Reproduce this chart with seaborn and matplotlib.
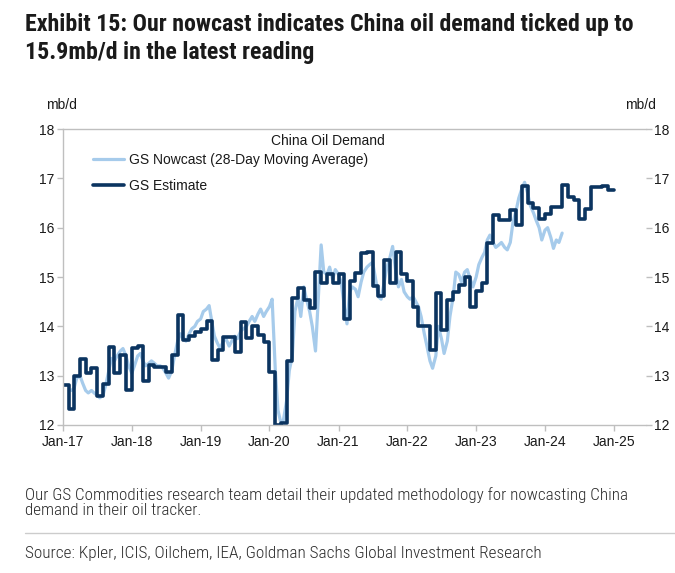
import matplotlib
matplotlib.use("Agg")
import matplotlib.pyplot as plt
import matplotlib.dates as mdates
import matplotlib.font_manager as fm
import numpy as np
import pandas as pd
import seaborn as sns

# ---------------- data ----------------
estimate_start = "2017-01-01"
estimate_values = [
    12.81, 12.32, 12.99, 13.34, 13.05, 13.15, 12.59, 12.83, 13.59, 13.05, 13.42, 12.71,
    13.57, 13.60, 12.90, 13.22, 13.17, 13.17, 13.07, 13.42, 14.23, 13.73, 13.80, 13.88,
    13.95, 14.10, 13.32, 13.52, 13.78, 13.78, 13.47, 14.08, 13.76, 14.01, 13.83, 13.69,
    13.07, 12.00, 12.04, 13.29, 14.57, 14.78, 14.54, 14.37, 15.11, 14.88, 15.07, 14.88,
    15.07, 14.15, 14.91, 15.09, 15.49, 15.50, 14.81, 14.61, 15.35, 14.88, 15.50, 15.07,
    14.91, 14.40, 14.01, 14.01, 13.52, 14.67, 13.93, 14.54, 14.69, 14.84, 15.00, 14.40,
    14.71, 14.88, 15.68, 16.26, 16.15, 16.15, 16.36, 16.06, 16.85, 16.50, 16.40, 16.18,
    16.28, 16.42, 16.42, 16.87, 16.62, 16.57, 16.17, 16.38, 16.82, 16.83, 16.84, 16.76,
]

nowcast_start = "2017-02-15"   # semi-monthly readings (1st and 15th)
nowcast_values = [
    12.70, 12.75, 12.95, 13.00, 12.85, 12.70, 12.65, 12.70, 12.65, 12.60, 12.55, 12.60,
    12.80, 13.10, 13.35, 13.30, 13.40, 13.50, 13.55, 13.40, 13.20, 13.05, 13.20, 13.40,
    13.45, 13.30, 13.20, 13.25, 13.30, 13.25, 13.20, 13.20, 13.15, 13.05, 12.95, 13.10,
    13.40, 13.70, 13.85, 13.75, 13.70, 13.85, 13.95, 14.00, 14.10, 14.15, 14.30, 14.35,
    14.42, 14.10, 13.80, 13.65, 13.55, 13.70, 13.75, 13.60, 13.70, 13.80, 13.75, 13.90,
    13.95, 14.00, 14.10, 14.20, 14.10, 14.25, 14.35, 14.20, 14.30, 14.40, 14.55, 13.10,
    12.30, 12.05, 12.10, 12.50, 13.10, 13.40, 14.30, 14.60, 14.20, 14.80, 14.55, 14.30,
    14.00, 13.50, 14.50, 15.65, 15.10, 15.05, 15.20, 14.95, 15.15, 15.05, 14.90, 14.40,
    14.05, 14.70, 14.80, 14.75, 14.60, 14.90, 15.10, 15.20, 15.25, 15.30, 15.00, 14.60,
    14.55, 14.90, 15.20, 15.40, 15.62, 15.10, 14.80, 14.95, 14.70, 14.60, 14.55, 14.60,
    14.50, 14.40, 14.20, 13.85, 13.60, 13.30, 13.15, 13.40, 14.00, 13.75, 13.45, 13.70,
    14.20, 14.60, 15.10, 15.05, 14.90, 15.10, 15.15, 14.95, 14.80, 15.00, 15.25, 15.40,
    15.50, 15.75, 15.85, 15.70, 15.60, 15.65, 15.70, 15.60, 15.55, 15.70, 16.10, 16.35,
    16.60, 16.80, 16.92, 16.70, 16.45, 16.30, 16.15, 16.00, 15.75, 15.95, 16.00, 15.80,
    15.58, 15.75, 15.70, 15.89,
]

x_tick_years = pd.date_range("2017-01-01", "2025-01-01", freq="YS")
y_ticks = [12, 13, 14, 15, 16, 17, 18]

title_lines = ["Exhibit 15: Our nowcast indicates China oil demand ticked up to",
               "15.9mb/d in the latest reading"]
legend_title = "China Oil Demand"
nowcast_label = "GS Nowcast (28-Day Moving Average)"
estimate_label = "GS Estimate"
unit_label = "mb/d"
note_lines = ["Our GS Commodities research team detail their updated methodology for nowcasting China",
              "demand in their oil tracker."]
source_text = "Source: Kpler, ICIS, Oilchem, IEA, Goldman Sachs Global Investment Research"

# ---------------- frames ----------------
est_dates = pd.date_range(estimate_start, periods=len(estimate_values) + 1, freq="MS")
est_df = pd.DataFrame({"date": est_dates,
                       "value": estimate_values + [estimate_values[-1]]})
now_dates = pd.date_range(nowcast_start, periods=len(nowcast_values), freq="SMS")
now_df = pd.DataFrame({"date": now_dates, "value": nowcast_values})

# ---------------- style ----------------
sns.set_theme(style="white")
plt.rcParams["font.family"] = ["Liberation Sans", "DejaVu Sans"]


def pick_narrow(weight):
    prefs = ["LiberationSansNarrow", "ArialNarrow", "RobotoCondensed",
             "OpenSansCondensed", "DejaVuSansCondensed", "NotoSansCondensed"]
    files = [f.fname for f in fm.fontManager.ttflist]
    for p in prefs:
        for fn in files:
            base = fn.split("/")[-1].replace("-", "").replace("_", "").replace(" ", "")
            low = base.lower()
            if p.lower() not in low:
                continue
            if "italic" in low or "oblique" in low:
                continue
            if weight == "bold":
                ok = "bold" in low and "semibold" not in low and "extrabold" not in low
            elif weight == "light":
                ok = "light" in low and "extralight" not in low
            else:
                ok = not any(k in low for k in ["bold", "light", "medium", "thin", "black"])
            if ok:
                return fm.FontProperties(fname=fn)
    if weight == "light":
        return pick_narrow("regular")
    fp = fm.FontProperties(family=["Liberation Sans", "DejaVu Sans"])
    if weight == "bold":
        fp.set_weight("bold")
    return fp


TITLE_FP = pick_narrow("bold")
NOTE_FP = pick_narrow("light")

DARK = "#0b3460"
LIGHT = "#a6cbeb"
GRID = "#bfbfbf"
TXT = "#1a1a1a"

W, H = 675, 573
fig = plt.figure(figsize=(W / 100, H / 100), dpi=100)
renderer = fig.canvas.get_renderer()
L, R, T, B = 63, 646, 129, 425
ax = fig.add_axes([L / W, 1 - B / H, (R - L) / W, (B - T) / H])

sns.lineplot(data=now_df, x="date", y="value", ax=ax, color=LIGHT, linewidth=2.3,
             label=nowcast_label, errorbar=None)
sns.lineplot(data=est_df, x="date", y="value", ax=ax, color=DARK, linewidth=2.6,
             drawstyle="steps-post", label=estimate_label, errorbar=None)

x0 = mdates.date2num(pd.Timestamp("2017-01-01"))
x_end = mdates.date2num(pd.Timestamp("2025-01-01"))
per_px = (x_end - x0) / (614 - L)
ax.set_xlim(x0, x0 + per_px * (R - L))
ax.set_ylim(12, 18)
ax.set_xticks(x_tick_years)
ax.xaxis.set_major_formatter(mdates.DateFormatter("%b-%y"))
ax.set_yticks(y_ticks)
ax.set_xlabel("")
ax.set_ylabel("")

for s in ["left", "top", "bottom"]:
    ax.spines[s].set_color(GRID)
    ax.spines[s].set_linewidth(1.0)
ax.spines["right"].set_visible(False)

ax.tick_params(axis="x", direction="out", length=4, width=1, color=GRID,
               labelsize=10, labelcolor=TXT, pad=3, bottom=True)
ax.tick_params(axis="y", direction="out", length=4, width=1, color=GRID,
               labelsize=10, labelcolor=TXT, pad=2, left=True, right=True,
               labelleft=True, labelright=True)

leg = ax.legend(loc="upper left", bbox_to_anchor=((93 - L) / (R - L), (B - 153) / (B - T)),
                frameon=False, fontsize=10, handlelength=2.2, handletextpad=0.4,
                labelspacing=0.85, borderpad=0, borderaxespad=0)
for t in leg.get_texts():
    t.set_color(TXT)

ax.text((328 - L) / (R - L), (B - 141) / (B - T), legend_title, transform=ax.transAxes,
        ha="center", va="center", fontsize=10, color=TXT)

fig.text(61 / W, 1 - 105 / H, unit_label, ha="center", va="center", fontsize=10, color=TXT)
fig.text(640 / W, 1 - 105 / H, unit_label, ha="center", va="center", fontsize=10, color=TXT)


def fitted_lines(lines, x_px, baselines_px, target_w, fp, color):
    arts = []
    for s, yb in zip(lines, baselines_px):
        t = fig.text(x_px / W, 1 - yb / H, s, ha="left", va="baseline",
                     fontproperties=fp.copy(), color=color)
        t.set_fontsize(14)
        arts.append(t)
    w = arts[0].get_window_extent(renderer).width
    size = 14 * target_w / w
    for t in arts:
        t.set_fontsize(size)
    return arts


# title: line 1 spans x 25..636 in the reference
fitted_lines(title_lines, 25, [31, 59], 611, TITLE_FP, TXT)
# note: line 1 spans x 25..627
fitted_lines(note_lines, 25, [500, 515], 602, NOTE_FP, "#2b2b2b")
fig.add_artist(plt.Line2D([25 / W, 1.0], [1 - 533 / H, 1 - 533 / H],
                          transform=fig.transFigure, color="#cccccc", linewidth=1))
fitted_lines([source_text], 25, [558], 518, NOTE_FP, "#2b2b2b")

fig.savefig("out.png", dpi=100)
